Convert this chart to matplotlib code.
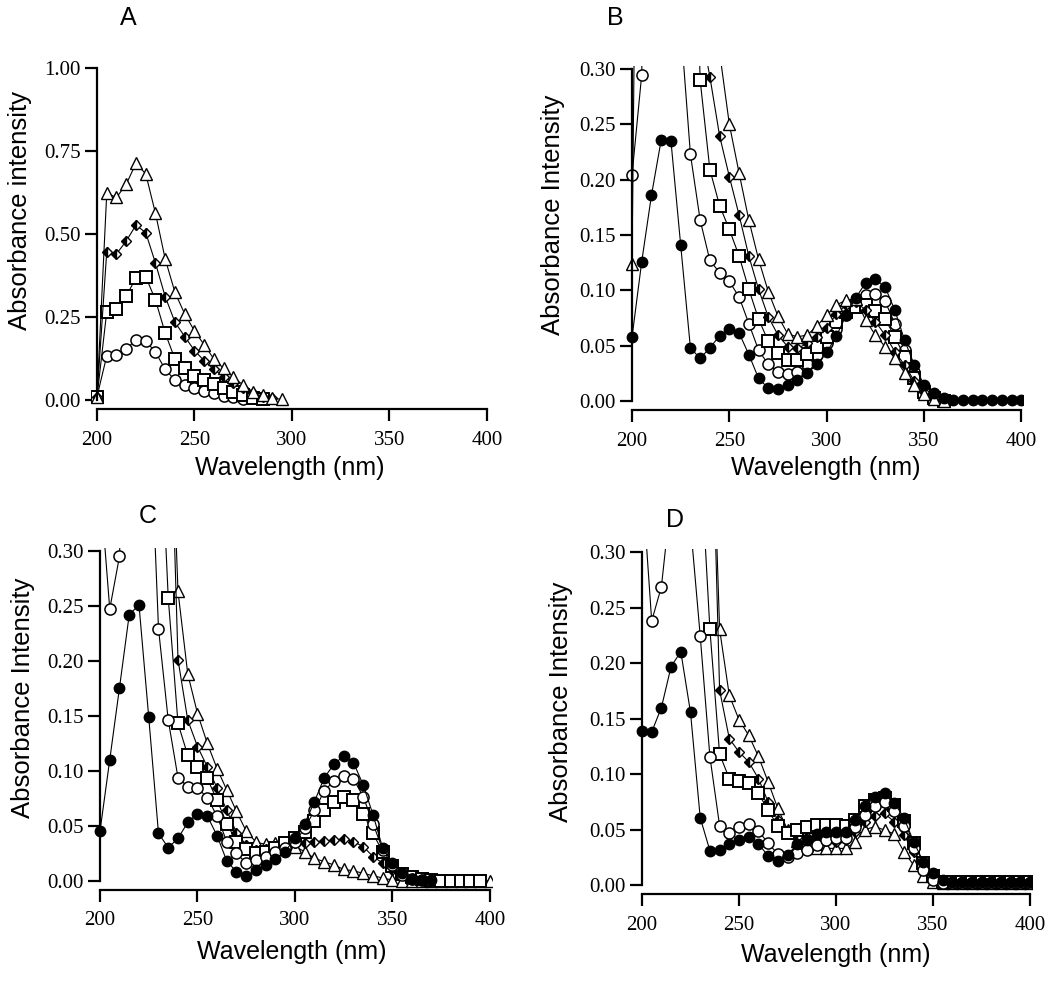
import numpy as np
import matplotlib
matplotlib.use("Agg")
import matplotlib.pyplot as plt

W, H = 1050, 991
nan = np.nan

# ---- data (absorbance; values > 0.30 run off the top) ----
wl_a = np.arange(200, 300, 5)
a_triangle = [0.01, 0.623, 0.61, 0.65, 0.713, 0.681, 0.562, 0.424, 0.324, 0.259,
              0.208, 0.166, 0.123, 0.095, 0.068, 0.045, 0.025, 0.015, 0.005, 0.002]
a_diamond = [0.01, 0.447, 0.44, 0.479, 0.527, 0.504, 0.412, 0.311, 0.234, 0.191,
             0.149, 0.118, 0.092, 0.07, 0.052, 0.035, 0.02, 0.01, 0.005, nan]
a_square = [0.01, 0.266, 0.274, 0.313, 0.368, 0.371, 0.301, 0.201, 0.123, 0.095,
            0.073, 0.06, 0.048, 0.035, 0.025, 0.015, 0.005, 0.002, nan, nan]
a_circle = [0.01, 0.133, 0.136, 0.154, 0.181, 0.178, 0.144, 0.092, 0.06, 0.045,
            0.035, 0.027, 0.02, 0.013, 0.008, 0.002, nan, nan, nan, nan]

wl = np.arange(200, 405, 5)

b_filled = [0.0575, 0.126, 0.186, 0.236, 0.235, 0.141, 0.048, 0.0385, 0.048, 0.059,
            0.0655, 0.0615, 0.042, 0.0205, 0.0115, 0.0105, 0.0145, 0.019, 0.025, 0.033,
            0.044, 0.0587, 0.0777, 0.0933, 0.107, 0.11, 0.103, 0.082, 0.055, 0.0325,
            0.0145, 0.007, 0.0025, 0.001, 0.001, 0.001, 0.001, 0.001, 0.001, 0.001, 0.001]
b_circle = [0.204, 0.295, 0.8, 1.0, 0.8, 0.34, 0.223, 0.1635, 0.127, 0.116,
            0.108, 0.094, 0.07, 0.046, 0.033, 0.0265, 0.0244, 0.0265, 0.033, 0.042,
            0.052, 0.065, 0.078, 0.088, 0.096, 0.097, 0.09, 0.07, 0.046, 0.026,
            0.013, 0.004, 0.001, nan, nan, nan, nan, nan, nan, nan, nan]
b_square = [0.6, 1.0, 1.2, 1.2, 1.2, 1.0, 0.6, 0.29, 0.209, 0.1765,
            0.155, 0.131, 0.101, 0.074, 0.054, 0.0437, 0.037, 0.037, 0.0425, 0.049,
            0.058, 0.071, 0.08, 0.085, 0.0867, 0.081, 0.074, 0.058, 0.04, 0.0205,
            0.0084, 0.003, 0.0, nan, nan, nan, nan, nan, nan, nan, nan]
b_diamond = [0.6, 1.0, 1.2, 1.2, 1.2, 1.0, 0.8, 0.34, 0.293, 0.2395,
             0.2027, 0.168, 0.131, 0.101, 0.076, 0.0596, 0.049, 0.0476, 0.052, 0.058,
             0.0657, 0.079, 0.0867, 0.0897, 0.082, 0.0717, 0.0596, 0.0446, 0.0325, 0.018,
             0.008, 0.003, 0.0, nan, nan, nan, nan, nan, nan, nan, nan]
b_triangle = [0.124, 1.0, 1.2, 1.2, 1.2, 1.0, 0.8, 0.6, 0.45, 0.315,
              0.25, 0.206, 0.1635, 0.128, 0.0988, 0.0766, 0.0605, 0.058, 0.0596, 0.0678,
              0.0777, 0.0867, 0.0913, 0.092, 0.073, 0.0596, 0.049, 0.0386, 0.0256, 0.0145,
              0.006, 0.002, 0.0, nan, nan, nan, nan, nan, nan, nan, nan]

c_filled = [0.045, 0.110, 0.1755, 0.242, 0.2506, 0.1485, 0.043, 0.030, 0.0385, 0.053,
            0.061, 0.059, 0.041, 0.018, 0.008, 0.004, 0.0097, 0.0145, 0.0197, 0.0264,
            0.039, 0.052, 0.072, 0.0936, 0.106, 0.1134, 0.1073, 0.087, 0.060, 0.0295,
            0.0158, 0.0067, 0.002, 0.001, 0.001, nan, nan, nan, nan, nan, nan]
c_circle = [0.36, 0.247, 0.295, 0.6, 0.8, 0.45, 0.229, 0.146, 0.0936, 0.0855,
            0.0845, 0.0755, 0.0588, 0.0355, 0.025, 0.0158, 0.0188, 0.022, 0.026, 0.03,
            0.035, 0.048, 0.064, 0.0815, 0.091, 0.0955, 0.0925, 0.0764, 0.052, 0.028,
            0.014, 0.005, 0.002, 0.001, nan, nan, nan, nan, nan, nan, nan]
c_square = [0.6, 1.0, 1.2, 1.2, 1.2, 1.0, 0.45, 0.257, 0.143, 0.114,
            0.1036, 0.093, 0.0734, 0.052, 0.0355, 0.0285, 0.025, 0.026, 0.030, 0.0345,
            0.0385, 0.0445, 0.0545, 0.064, 0.072, 0.0764, 0.0734, 0.061, 0.043, 0.026,
            0.013, 0.006, 0.003, 0.002, 0.001, 0.0, 0.0, 0.0, 0.0, 0.0, nan]
c_diamond = [0.6, 1.0, 1.2, 1.2, 1.2, 1.0, 0.8, 0.5, 0.201, 0.146,
             0.122, 0.1036, 0.0845, 0.064, 0.0436, 0.0325, 0.028, 0.029, 0.031, 0.033,
             0.0345, 0.0345, 0.0355, 0.036, 0.037, 0.038, 0.0355, 0.031, 0.022, 0.016,
             0.0097, 0.005, 0.002, nan, nan, nan, nan, nan, nan, nan, nan]
c_triangle = [0.6, 1.0, 1.2, 1.2, 1.2, 1.0, 0.8, 0.5, 0.263, 0.188,
              0.152, 0.125, 0.102, 0.0825, 0.063, 0.045, 0.035, 0.033, 0.0345, 0.034,
              0.031, 0.0264, 0.0203, 0.0173, 0.0143, 0.0103, 0.009, 0.0067, 0.0045, 0.0024,
              0.0006, 0.0, 0.0, 0.0, 0.0, 0.0, 0.0, 0.0, 0.0, 0.0, 0.0]

d_filled = [0.139, 0.138, 0.160, 0.197, 0.2104, 0.1557, 0.0607, 0.031, 0.032, 0.0367,
            0.041, 0.043, 0.037, 0.0264, 0.0216, 0.027, 0.037, 0.041, 0.046, 0.048,
            0.048, 0.048, 0.059, 0.071, 0.0796, 0.0827, 0.0742, 0.0607, 0.039, 0.021,
            0.0105, 0.0045, 0.003, 0.003, 0.003, 0.003, 0.003, 0.003, 0.003, 0.003, 0.003]
d_circle = [0.365, 0.238, 0.269, 0.35, 0.6, 0.325, 0.2248, 0.1157, 0.0535, 0.047,
            0.0526, 0.0547, 0.049, 0.0376, 0.028, 0.025, 0.029, 0.032, 0.036, 0.041,
            0.042, 0.042, 0.0526, 0.063, 0.0715, 0.075, 0.067, 0.053, 0.033, 0.0135,
            0.0045, 0.002, 0.002, 0.002, 0.002, 0.002, 0.002, 0.002, 0.002, 0.002, 0.002]
d_square = [0.6, 1.0, 1.2, 1.2, 1.2, 1.0, 0.39, 0.2306, 0.118, 0.096,
            0.094, 0.0917, 0.0827, 0.0676, 0.053, 0.0466, 0.0496, 0.0526, 0.054, 0.0544,
            0.054, 0.0535, 0.059, 0.071, 0.0766, 0.078, 0.072, 0.058, 0.038, 0.02,
            0.008, 0.003, 0.003, 0.003, 0.003, 0.003, 0.003, 0.003, 0.003, 0.003, 0.003]
d_diamond = [0.6, 1.0, 1.2, 1.2, 1.2, 1.0, 0.8, 0.5, 0.1758, 0.132,
             0.120, 0.111, 0.096, 0.075, 0.0586, 0.048, 0.043, 0.043, 0.041, 0.04,
             0.039, 0.041, 0.048, 0.057, 0.062, 0.0646, 0.057, 0.045, 0.03, 0.015,
             0.006, 0.002, 0.002, 0.002, 0.002, 0.002, 0.002, 0.002, 0.002, 0.002, 0.002]
d_triangle = [0.6, 1.0, 1.2, 1.2, 1.2, 1.0, 0.8, 0.5, 0.2306, 0.171,
              0.149, 0.135, 0.116, 0.093, 0.069, 0.05, 0.04, 0.0345, 0.033, 0.033,
              0.033, 0.033, 0.039, 0.05, 0.0526, 0.0496, 0.046, 0.03, 0.018, 0.008,
              0.003, 0.002, 0.002, 0.002, 0.002, 0.002, 0.002, 0.002, 0.002, 0.002, 0.002]

# ---- marker styles ----
STYLES = {
    "filled": dict(marker="o", ms=7.5, mfc="black", mec="black", mew=1.0),
    "circle": dict(marker="o", ms=8, mfc="white", mec="black", mew=1.1),
    "square": dict(marker="s", ms=8, mfc="white", mec="black", mew=1.4),
    "diamond": dict(marker="D", ms=5.5, mfc="black", mfcalt="white", fillstyle="left",
                    mec="black", mew=1.0),
    "triangle": dict(marker="^", ms=8, mfc="white", mec="black", mew=1.0),
}

SERIF = "Liberation Serif"
SANS = "Liberation Sans"

fig = plt.figure(figsize=(W / 100, H / 100), dpi=100)


def make_axes(x200, ppn, y0, ytop, top_val):
    # place an axes so that data 200 nm / 0.0 land on the given pixel positions
    ppv = (y0 - ytop) / top_val
    left = x200 - 3 * ppn
    right = x200 + 201 * ppn
    bottom = y0 + 9
    top = ytop - 3
    ax = fig.add_axes([left / W, 1 - bottom / H, (right - left) / W, (bottom - top) / H])
    ax.set_xlim(197, 401)
    ax.set_ylim(-9 / ppv, top_val + 3 / ppv)
    return ax


def style_axes(ax, top_val, yticks, ylabel, xlab_xy, ylab_xy):
    for side in ("top", "right"):
        ax.spines[side].set_visible(False)
    ax.spines["left"].set_position(("data", 200))
    ax.spines["left"].set_bounds(0, top_val)
    ax.spines["bottom"].set_bounds(200, 400)
    for side in ("left", "bottom"):
        ax.spines[side].set_linewidth(1.6)
    ax.set_xticks([200, 250, 300, 350, 400])
    ax.set_yticks(yticks)
    ax.set_yticklabels([f"{t:.2f}" for t in yticks])
    ax.tick_params(direction="out", length=8.5, width=1.6, labelsize=15)
    ax.tick_params(axis="x", pad=7)
    ax.tick_params(axis="y", pad=3)
    for lab in ax.get_xticklabels() + ax.get_yticklabels():
        lab.set_fontfamily(SERIF)
    ax.set_xlabel("Wavelength (nm)", fontsize=18, fontfamily=SANS, va="center")
    ax.xaxis.set_label_coords(xlab_xy[0] / W, 1 - xlab_xy[1] / H, transform=fig.transFigure)
    ax.set_ylabel(ylabel, fontsize=18.5, fontfamily=SANS, va="center", ha="center")
    ax.yaxis.set_label_coords(ylab_xy[0] / W, 1 - ylab_xy[1] / H, transform=fig.transFigure)


def draw(ax, x, series):
    for vals, key in series:
        ax.plot(x, vals, color="black", lw=0.8, **STYLES[key])


YT = [0.0, 0.05, 0.10, 0.15, 0.20, 0.25, 0.30]

# A
ax = make_axes(97, 1.95, 400, 68, 1.0)
draw(ax, wl_a, [(a_circle, "circle"), (a_square, "square"),
                (a_diamond, "diamond"), (a_triangle, "triangle")])
style_axes(ax, 1.0, [0.0, 0.25, 0.5, 0.75, 1.0], "Absorbance intensity", (290, 468), (20, 210))
fig.text(128 / W, 1 - 18 / H, "A", fontsize=18, fontfamily=SANS, ha="center", va="center")

# B
ax = make_axes(632, 1.947, 401, 69, 0.30)
draw(ax, wl, [(b_circle, "circle"), (b_square, "square"), (b_diamond, "diamond"),
              (b_triangle, "triangle"), (b_filled, "filled")])
style_axes(ax, 0.30, YT, "Absorbance Intensity", (826, 468), (553, 215))
fig.text(615 / W, 1 - 18 / H, "B", fontsize=18, fontfamily=SANS, ha="center", va="center")

# C
ax = make_axes(100, 1.95, 880.7, 550.7, 0.30)
draw(ax, wl, [(c_triangle, "triangle"), (c_diamond, "diamond"), (c_square, "square"),
              (c_circle, "circle"), (c_filled, "filled")])
style_axes(ax, 0.30, YT, "Absorbance Intensity", (292, 952), (23, 698))
fig.text(148 / W, 1 - 516 / H, "C", fontsize=18, fontfamily=SANS, ha="center", va="center")

# D
ax = make_axes(642, 1.94, 885, 552.3, 0.30)
draw(ax, wl, [(d_triangle, "triangle"), (d_diamond, "diamond"), (d_square, "square"),
              (d_circle, "circle"), (d_filled, "filled")])
style_axes(ax, 0.30, YT, "Absorbance Intensity", (836, 955), (561, 702))
fig.text(675 / W, 1 - 520 / H, "D", fontsize=18, fontfamily=SANS, ha="center", va="center")

fig.savefig("out.png", dpi=100, facecolor="white")
